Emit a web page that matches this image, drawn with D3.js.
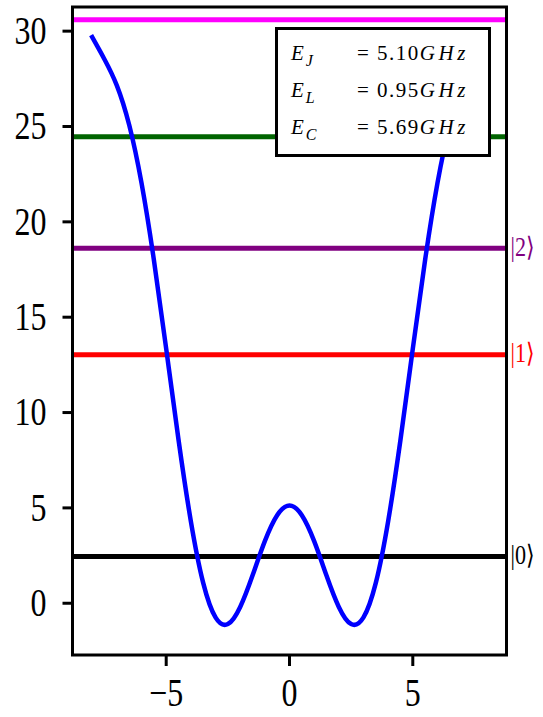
<!DOCTYPE html>
<html><head><meta charset="utf-8">
<script src="https://cdn.jsdelivr.net/npm/d3@7"></script>
<style>body{margin:0;background:#fff}</style>
</head><body><svg id="c" width="543" height="717"></svg>
<script>
// ---- data ----
const phi = [-8,-7.5,-7,-6.5,-6,-5.5,-5,-4.5,-4,-3.5,-3,-2.5,-2,-1.5,-1,-0.5,0,
             0.5,1,1.5,2,2.5,3,3.5,4,4.5,5,5.5,6,6.5,7,7.5,8];
const potential = [29.66,28.49,27.12,25.05,22.00,17.98,13.32,8.54,4.27,1.04,-0.77,-1.12,-0.22,1.43,3.23,4.59,5.10,
                   4.59,3.23,1.43,-0.22,-1.12,-0.77,1.04,4.27,8.54,13.32,17.98,22.00,25.05,27.12,28.49,29.66];
const levelValues = [2.42, 13.0, 18.59, 24.44, 30.57];
const levelLabels = ["|0⟩", "|1⟩", "|2⟩", "", ""];
const levelColors = ["#000000", "#ff0000", "#800080", "#006400", "#ff00ff"];
const legendSubs = ["J", "L", "C"];
const legendValues = ["5.10", "0.95", "5.69"];
const xTicks = [-5, 0, 5];
const yTicks = [0, 5, 10, 15, 20, 25, 30];

// ---- layout ----
const L = 72.5, R = 506.5, T = 7, B = 655;
const svg = d3.select("#c");
const x = d3.scaleLinear().domain([-8.8, 8.8]).range([L, R]);
const y = d3.scaleLinear().domain([-2.74, 31.24]).range([B, T]);
const serif = "'Liberation Serif','DejaVu Serif',serif";
const sx = 0.82; // horizontal squeeze of tick labels

svg.append("clipPath").attr("id","clip").append("rect")
  .attr("x",L).attr("y",T).attr("width",R-L).attr("height",B-T);
const plot = svg.append("g").attr("clip-path","url(#clip)");

// energy levels
plot.selectAll("line.lvl").data(levelValues).join("line")
  .attr("class","lvl")
  .attr("x1",L).attr("x2",R)
  .attr("y1",d=>y(d)).attr("y2",d=>y(d))
  .attr("stroke",(d,i)=>levelColors[i]).attr("stroke-width",5);

// potential curve
const line = d3.line().x((d,i)=>x(phi[i])).y(d=>y(d)).curve(d3.curveNatural);
plot.append("path").datum(potential)
  .attr("d", line).attr("fill","none")
  .attr("stroke","#0000ff").attr("stroke-width",4.5).attr("stroke-linecap","square");

// level labels
svg.selectAll("text.lvl").data(levelValues).join("text")
  .attr("class","lvl")
  .attr("transform", d => `translate(${R + 4},${y(d) - 2}) scale(${sx},1)`)
  .attr("dominant-baseline","central")
  .attr("font-family", serif).attr("font-size", 27)
  .attr("fill",(d,i)=>levelColors[i])
  .text((d,i)=>levelLabels[i]);

// axes
const fmt = d=>String(d).replace("-","−");
const yAxis = d3.axisLeft(y).tickValues(yTicks).tickSize(10).tickPadding(8).tickFormat(fmt);
const xAxis = d3.axisBottom(x).tickValues(xTicks).tickSize(11).tickPadding(8).tickFormat(fmt);
const gy = svg.append("g").attr("transform",`translate(${L},0)`).call(yAxis);
const gx = svg.append("g").attr("transform",`translate(0,${B})`).call(xAxis);
[gy,gx].forEach(g=>{
  g.select(".domain").remove();
  g.selectAll(".tick line").attr("stroke","#000").attr("stroke-width",3);
  g.selectAll(".tick text").attr("font-family",serif).attr("font-size",39).attr("fill","#000");
});
gy.selectAll(".tick text").attr("x",-26/sx).attr("dy","0.33em").attr("transform",`scale(${sx},1)`);
gx.selectAll(".tick text").attr("y",23).attr("dy","0.71em").attr("transform",`scale(${sx},1)`).attr("x",0);
gx.selectAll(".tick").attr("transform", d => `translate(${x(d)},0)`);

// legend box
const lg = svg.append("g");
lg.append("rect").attr("x",276.5).attr("y",28.5).attr("width",213).attr("height",127)
  .attr("fill","#fff").attr("stroke","#000").attr("stroke-width",3);
legendSubs.forEach((s,i)=>{
  const t = lg.append("text").attr("y", 60 + i*37).attr("font-family",serif).attr("font-size",21).attr("fill","#000");
  t.append("tspan").attr("x",291).attr("font-style","italic").attr("letter-spacing",2).text("E");
  t.append("tspan").attr("font-style","italic").attr("font-size",16).attr("dy",6).text(s);
  t.append("tspan").attr("x",357).attr("dy",-6).attr("letter-spacing",1.5).text("= " + legendValues[i]);
  t.append("tspan").attr("font-style","italic").attr("letter-spacing",3.5).text("GHz");
});

// frame
svg.append("rect").attr("x",L).attr("y",T).attr("width",R-L).attr("height",B-T)
  .attr("fill","none").attr("stroke","#000").attr("stroke-width",3);
</script>
</body></html>
